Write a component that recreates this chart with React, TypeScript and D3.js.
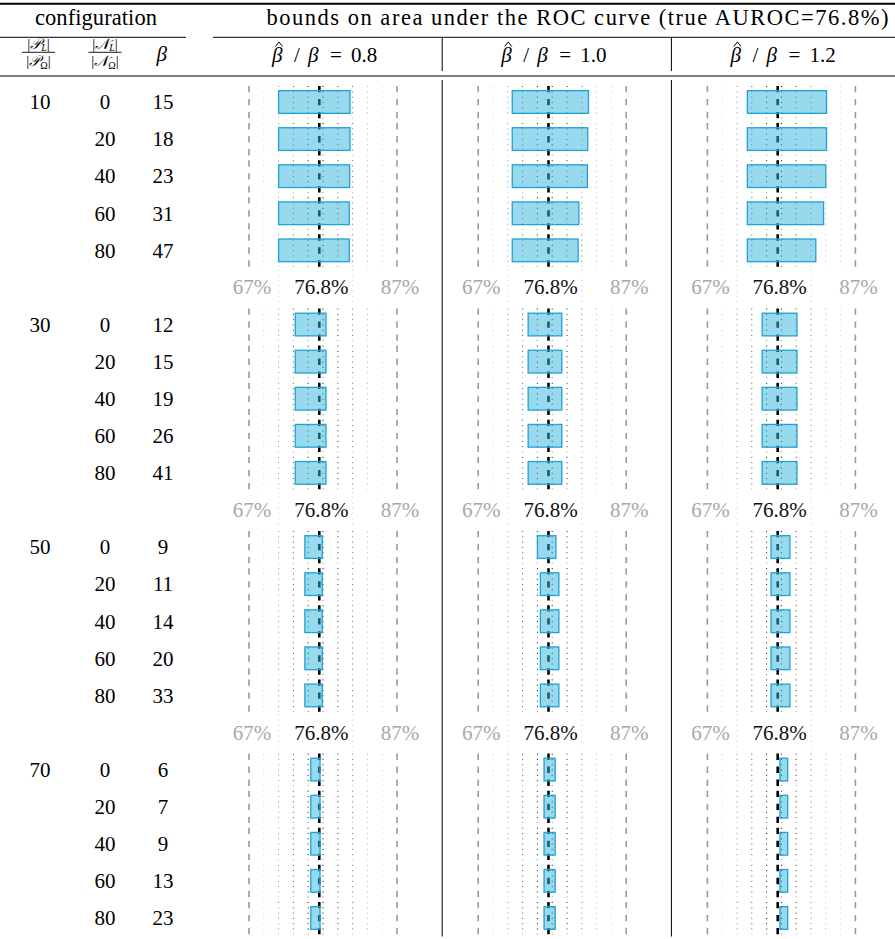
import React from 'react';
import * as d3 from 'd3';

const TRUE_AUROC = 76.8;
const RATIOS = ['0.8', '1.0', '1.2'];
const POS_PCT = [10, 30, 50, 70];
const NEG_PCT = [0, 20, 40, 60, 80];
const BETA = [
  [15, 18, 23, 31, 47],
  [12, 15, 19, 26, 41],
  [9, 11, 14, 20, 33],
  [6, 7, 9, 13, 23],
];

// lower / upper AUROC bounds in %, [group][row]
const LOW_08 = [
  [71.3, 71.3, 71.3, 71.3, 71.3],
  [73.55, 73.55, 73.55, 73.55, 73.55],
  [74.85, 74.85, 74.85, 74.85, 74.85],
  [75.65, 75.65, 75.65, 75.65, 75.65],
];
const HIGH_08 = [
  [80.95, 80.95, 80.9, 80.85, 80.85],
  [77.7, 77.7, 77.7, 77.7, 77.7],
  [77.2, 77.2, 77.2, 77.2, 77.2],
  [76.9, 76.9, 76.9, 76.9, 76.9],
];
const LOW_10 = [
  [71.9, 71.9, 71.9, 71.9, 71.9],
  [74.05, 74.05, 74.05, 74.05, 74.05],
  [75.3, 75.7, 75.7, 75.7, 75.7],
  [76.2, 76.2, 76.2, 76.2, 76.2],
];
const HIGH_10 = [
  [82.2, 82.1, 82.05, 80.9, 80.8],
  [78.6, 78.6, 78.6, 78.6, 78.6],
  [77.8, 78.2, 78.2, 78.2, 78.2],
  [77.7, 77.7, 77.7, 77.7, 77.7],
];
const LOW_12 = [
  [72.7, 72.7, 72.7, 72.7, 72.7],
  [74.7, 74.7, 74.7, 74.7, 74.7],
  [75.9, 75.9, 75.9, 75.9, 75.9],
  [77.1, 77.1, 77.1, 77.1, 77.1],
];
const HIGH_12 = [
  [83.4, 83.4, 83.3, 83.0, 81.95],
  [79.4, 79.4, 79.4, 79.4, 79.4],
  [78.45, 78.45, 78.45, 78.45, 78.45],
  [78.15, 78.15, 78.15, 78.15, 78.15],
];
const LOWS = [LOW_08, LOW_10, LOW_12];
const HIGHS = [HIGH_08, HIGH_10, HIGH_12];

// guide lines drawn in each cell
const DOTTED = [69.3, 71.3, 73.3, 75.3, 77.3, 79.3, 81.3, 83.3, 85.3];
const DASHED = [67.3, 87.3];
const EDGE_LABELS = ['67%', '87%'];
const LABEL_DOTTED = [71.3, 81.3];

const W = 895;
const H = 939;
const FONT = 'Liberation Serif, DejaVu Serif, serif';
const FS = 21;

const colX = d3.scaleBand<number>().domain([0, 1, 2]).range([213, 213 + 3 * 229.2]);
const xFor = (p: number) =>
  d3.scaleLinear().domain([67.3, 87.3]).range([colX(p)! + 36, colX(p)! + 184]);

const rowY = d3.scaleBand<number>().domain(d3.range(23)).range([83.45, 936.5]);
const step = rowY.bandwidth();
const cyOf = (i: number) => rowY(i)! + step / 2;

const dotColor = d3.scaleLinear<string>().domain([1, 7.5]).range(['#000000', '#cfcfcf']).clamp(true);

function Cell({ p, i, lo, hi }: { p: number; i: number; lo: number; hi: number }) {
  const x = xFor(p);
  const cy = cyOf(i);
  const y1 = cy - 16;
  const y2 = cy + 16.3;
  return (
    <g>
      {DOTTED.map(v => (
        <line key={v} x1={x(v)} x2={x(v)} y1={y1} y2={y2}
          stroke={dotColor(Math.abs(v - TRUE_AUROC))} strokeWidth={1} strokeDasharray="1 4.3" />
      ))}
      {DASHED.map(v => (
        <line key={v} x1={x(v)} x2={x(v)} y1={y1} y2={y2}
          stroke="#9a9a9a" strokeWidth={1.6} strokeDasharray="6.3 6.7" />
      ))}
      <line x1={x(TRUE_AUROC)} x2={x(TRUE_AUROC)} y1={y1} y2={y2}
        stroke="#000" strokeWidth={2.6} strokeDasharray="6.3 6.7" />
      <rect x={x(lo)} y={cy - 11.35} width={x(hi) - x(lo)} height={22.7}
        fill="#33b4dd" fillOpacity={0.5} stroke="#1ea3d2" strokeWidth={1.3} />
    </g>
  );
}

function LabelCell({ p, i }: { p: number; i: number }) {
  const x = xFor(p);
  const cy = cyOf(i);
  return (
    <g>
      {LABEL_DOTTED.map(v => (
        <line key={v} x1={x(v)} x2={x(v)} y1={cy - 18} y2={cy + 18}
          stroke="#c8c8c8" strokeWidth={1} strokeDasharray="1 4.3" />
      ))}
      {DASHED.map((v, k) => (
        <text key={v} x={x(v) + 3} y={cy + 7} textAnchor="middle" fill="#a8a8a8">{EDGE_LABELS[k]}</text>
      ))}
      <text x={x(TRUE_AUROC) + 2} y={cy + 7} textAnchor="middle" fill="#111">{TRUE_AUROC.toFixed(1)}%</text>
    </g>
  );
}

function Frac({ cx, sym }: { cx: number; sym: string }) {
  return (
    <g style={{ fontSize: 15 }}>
      <text x={cx} y={49} textAnchor="middle">
        <tspan>|</tspan><tspan style={{ fontStyle: 'italic' }}>{sym}</tspan>
        <tspan style={{ fontSize: 10, fontStyle: 'italic' }} dy={2}>L</tspan><tspan dy={-2}>|</tspan>
      </text>
      <line x1={cx - 16.5} x2={cx + 16.5} y1={52.3} y2={52.3} stroke="#000" strokeWidth={0.9} />
      <text x={cx} y={66} textAnchor="middle">
        <tspan>|</tspan><tspan style={{ fontStyle: 'italic' }}>{sym}</tspan>
        <tspan style={{ fontSize: 10 }} dy={2.5}>Ω</tspan><tspan dy={-2.5}>|</tspan>
      </text>
    </g>
  );
}

function PanelHead({ p }: { p: number }) {
  const left = colX(p)! + 59;
  const hx = left + 7;
  return (
    <g>
      <text x={left} y={62} style={{ fontStyle: 'italic' }}>β</text>
      <path d={`M${hx - 3.6},46.5 L${hx},42 L${hx + 3.6},46.5`} fill="none" stroke="#000" strokeWidth={1} />
      <text x={left + 22} y={62}>/</text>
      <text x={left + 36} y={62} style={{ fontStyle: 'italic' }}>β</text>
      <text x={left + 58} y={62}>=</text>
      <text x={left + 79} y={62}>{RATIOS[p]}</text>
    </g>
  );
}

export default function App() {
  const cells: React.ReactElement[] = [];
  POS_PCT.forEach((pos, g) => {
    NEG_PCT.forEach((neg, r) => {
      const i = g * 6 + r;
      const ty = cyOf(i) + 7.3;
      if (r === 0) {
        cells.push(<text key={`g${g}`} x={40} y={ty} textAnchor="middle">{pos}</text>);
      }
      cells.push(<text key={`n${g}${r}`} x={105} y={ty} textAnchor="middle">{neg}</text>);
      cells.push(<text key={`b${g}${r}`} x={163} y={ty} textAnchor="middle">{BETA[g][r]}</text>);
      RATIOS.forEach((_, p) => {
        cells.push(<Cell key={`c${g}${r}${p}`} p={p} i={i} lo={LOWS[p][g][r]} hi={HIGHS[p][g][r]} />);
      });
    });
    if (g < POS_PCT.length - 1) {
      RATIOS.forEach((_, p) => {
        cells.push(<LabelCell key={`l${g}${p}`} p={p} i={g * 6 + 5} />);
      });
    }
  });

  return (
    <div style={{ position: 'absolute', left: 0, top: 0, background: '#fff' }}>
      <svg width={W} height={H} style={{ display: 'block', fontFamily: FONT, fontSize: FS }}>
        <rect width={W} height={H} fill="#fff" />
        {/* rules */}
        <line x1={0} x2={W} y1={3.7} y2={3.7} stroke="#000" strokeWidth={2} />
        <line x1={0} x2={186} y1={37.3} y2={37.3} stroke="#000" strokeWidth={1} />
        <line x1={213} x2={W} y1={37.3} y2={37.3} stroke="#000" strokeWidth={1} />
        <line x1={0} x2={W} y1={76} y2={76} stroke="#000" strokeWidth={1.1} />
        {[1, 2].map(p => (
          <g key={p}>
            <line x1={colX(p)!} x2={colX(p)!} y1={37.8} y2={71} stroke="#000" strokeWidth={1} />
            <line x1={colX(p)!} x2={colX(p)!} y1={80} y2={936.5} stroke="#000" strokeWidth={1} />
          </g>
        ))}
        {/* header */}
        <text x={35} y={24.5} style={{ fontSize: 22.5 }} textLength={122} lengthAdjust="spacing">configuration</text>
        <text x={266.5} y={24.5} style={{ fontSize: 22.5 }} textLength={622} lengthAdjust="spacing">bounds on area under the ROC curve (true AUROC=76.8%)</text>
        <Frac cx={38.5} sym="𝒫" />
        <Frac cx={105} sym="𝒩" />
        <text x={161.7} y={61} textAnchor="middle" style={{ fontStyle: 'italic' }}>β</text>
        {RATIOS.map((_, p) => <PanelHead key={p} p={p} />)}
        {cells}
      </svg>
    </div>
  );
}
